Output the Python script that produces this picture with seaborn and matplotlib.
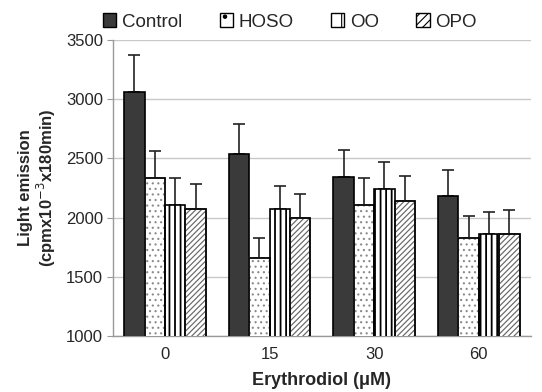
import matplotlib
matplotlib.use("Agg")
import matplotlib.pyplot as plt
import seaborn as sns
import pandas as pd
import numpy as np
from matplotlib.patches import Rectangle

doses = ["0", "15", "30", "60"]
groups = ["Control", "HOSO", "OO", "OPO"]
control = [3060, 2540, 2340, 2180]
hoso = [2330, 1660, 2110, 1830]
oo = [2110, 2070, 2240, 1860]
opo = [2070, 2000, 2140, 1860]
control_err = [310, 250, 230, 220]
hoso_err = [235, 170, 220, 180]
oo_err = [220, 200, 230, 190]
opo_err = [215, 200, 210, 200]

vals = {"Control": control, "HOSO": hoso, "OO": oo, "OPO": opo}
errs = {"Control": control_err, "HOSO": hoso_err, "OO": oo_err, "OPO": opo_err}

rows = []
for g in groups:
    for d, v in zip(doses, vals[g]):
        rows.append({"dose": d, "group": g, "value": v})
df = pd.DataFrame(rows)

sns.set_style("white")
plt.rcParams["font.family"] = ["Liberation Sans", "DejaVu Sans"]
plt.rcParams["hatch.linewidth"] = 0.8

fig = plt.figure(figsize=(5.42, 3.92), dpi=100)
ax = fig.add_axes([0.208, 0.143, 0.772, 0.755])

fills = {"Control": "#3a3a3a", "HOSO": "white", "OO": "white", "OPO": "white"}
hatches = {"Control": "", "HOSO": "...", "OO": "|||", "OPO": "//////"}
hatch_cols = {"Control": "black", "HOSO": "#8a8a8a", "OO": "black", "OPO": "#666666"}
hatch_lw = {"Control": 0.8, "HOSO": 0.8, "OO": 1.3, "OPO": 0.85}

sns.barplot(data=df, x="dose", y="value", hue="group", hue_order=groups,
            order=doses, palette=fills, errorbar=None, width=0.78,
            edgecolor="black", linewidth=1.2, ax=ax, legend=False, zorder=3)

for gi, g in enumerate(groups):
    cont = ax.containers[gi]
    xs, tops = [], []
    for p in cont.patches:
        p.set_hatch(hatches[g])
        if hasattr(p, "set_hatch_linewidth"):
            p.set_hatch_linewidth(hatch_lw[g])
        if hatch_cols[g] != "black":
            p.set_edgecolor(hatch_cols[g])
            ax.add_patch(Rectangle((p.get_x(), p.get_y()), p.get_width(), p.get_height(),
                                   fill=False, edgecolor="black", linewidth=1.2, zorder=4))
        xs.append(p.get_x() + p.get_width() / 2)
        tops.append(p.get_y() + p.get_height())
    e = np.array(errs[g])
    ax.errorbar(xs, tops, yerr=[np.zeros_like(e), e], fmt="none", ecolor="#222222",
                elinewidth=1.2, capsize=4.3, capthick=1.2, zorder=2)

ax.set_ylim(1000, 3500)
ax.set_yticks(np.arange(1000, 3501, 500))
ax.set_xlim(-0.5, 3.5)
ax.yaxis.grid(True, color="#c8c8c8", linewidth=1.0, zorder=0)
ax.set_axisbelow(True)
for s in ["top", "right"]:
    ax.spines[s].set_visible(False)
for s in ["left", "bottom"]:
    ax.spines[s].set_color("#999999")
    ax.spines[s].set_linewidth(1.0)

ax.tick_params(axis="x", which="major", length=0, labelsize=12, pad=8)
ax.set_xticks([-0.5, 0.5, 1.5, 2.5], minor=True)
ax.tick_params(axis="x", which="minor", length=4, color="#999999", direction="out")
ax.tick_params(axis="y", length=4, color="#999999", labelsize=12, left=True, pad=3)

ax.set_xlabel("Erythrodiol (\u03bcM)", fontsize=13, fontweight="bold", labelpad=7)
ax.set_ylabel("Light emission\n(cpmx10$^{-3}$x180min)", fontsize=12,
              fontweight="bold", labelpad=6, linespacing=1.1)

handles = []
for g in groups:
    h = Rectangle((0, 0), 1, 1, facecolor=fills[g], edgecolor="black",
                  hatch=hatches[g][:1] if g != "OPO" else "////", linewidth=1.0)
    handles.append(h)
fig.legend(handles, groups, loc="center", bbox_to_anchor=(0.535, 0.944), ncol=4,
           frameon=False, fontsize=13.5, handlelength=0.7, handleheight=0.7,
           handletextpad=0.3, columnspacing=2.0, borderpad=0)

fig.savefig("out.png", dpi=100)
